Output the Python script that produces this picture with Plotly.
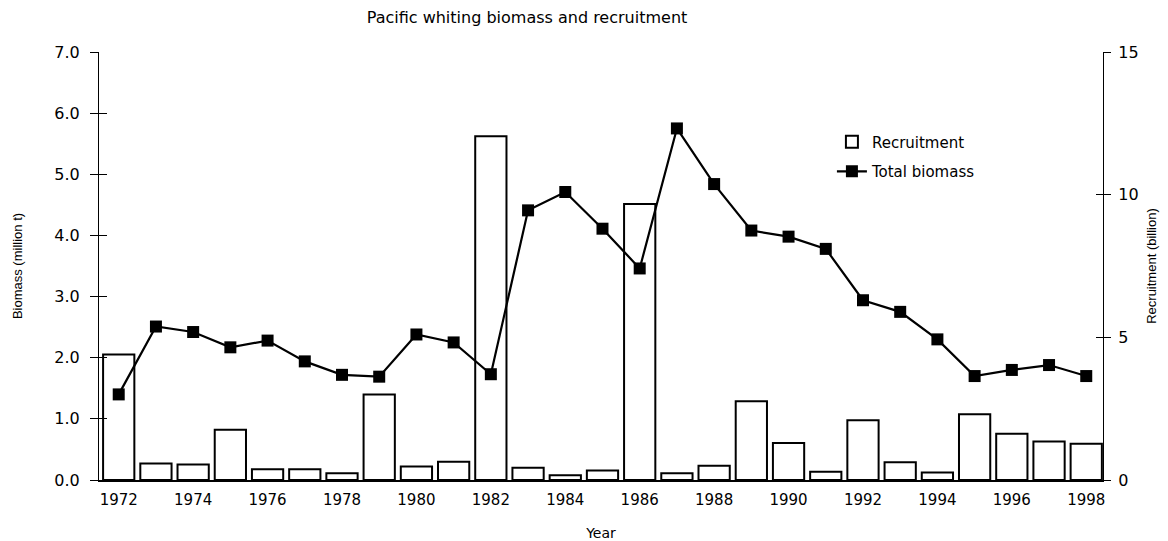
import plotly.graph_objects as go

years = list(range(1972, 1999))
recruitment_bn = [4.4, 0.58, 0.54, 1.76, 0.38, 0.38, 0.24, 3.0, 0.47, 0.64,
                  12.05, 0.43, 0.17, 0.33, 9.67, 0.24, 0.50, 2.76, 1.30, 0.29,
                  2.09, 0.62, 0.26, 2.30, 1.62, 1.35, 1.27]
biomass_mt = [1.40, 2.51, 2.42, 2.17, 2.28, 1.94, 1.72, 1.69, 2.38, 2.25,
              1.73, 4.41, 4.71, 4.11, 3.46, 5.75, 4.84, 4.08, 3.98, 3.78,
              2.94, 2.75, 2.30, 1.70, 1.80, 1.88, 1.70]
x_ticks = list(range(1972, 1999, 2))
left_ticks = [0, 1, 2, 3, 4, 5, 6, 7]
right_ticks = [0, 5, 10, 15]

TXT = "DejaVu Sans"
AX = "Liberation Sans"

# page body has an 8px margin, so the figure is sized to the visible area
W, H = 1160, 533

fig = go.Figure()
fig.add_trace(go.Bar(
    x=years, y=recruitment_bn, name="Recruitment", yaxis="y", legendgroup="r",
    width=0.84, marker=dict(color="white", line=dict(color="black", width=2)),
))
fig.add_trace(go.Scatter(
    x=years, y=biomass_mt, name="Total biomass", yaxis="y2", mode="lines+markers",
    legendgroup="b",
    line=dict(color="black", width=2.2),
    marker=dict(symbol="square", size=12, color="black"),
))

xr = [1971.47, 1998.45]
fig.update_layout(
    width=W, height=H,
    margin=dict(l=91, r=65, t=44, b=61),
    paper_bgcolor="white", plot_bgcolor="white",
    title=dict(text="Pacific whiting biomass and recruitment", x=519 / W, xanchor="center",
               y=1 - 9 / H, yanchor="middle", font=dict(family=TXT, size=16, color="black")),
    showlegend=True,
    legend=dict(x=0.730, y=0.828, xanchor="left", yanchor="top", bgcolor="rgba(0,0,0,0)",
                font=dict(family=TXT, size=15, color="black"), traceorder="grouped",
                tracegroupgap=7),
    xaxis=dict(range=xr, tickmode="array", tickvals=x_ticks, ticks="", automargin=False,
               ticklabelstandoff=5,
               showline=True, linecolor="black", linewidth=1.5, showgrid=False, zeroline=False,
               tickfont=dict(family=TXT, size=15, color="black"),
               title=dict(text="Year", font=dict(family=TXT, size=14, color="black"), standoff=22)),
    yaxis=dict(range=[0, 15], side="right", tickmode="array", tickvals=right_ticks, automargin=False,
               ticks="outside", ticklen=7, tickwidth=1.2, tickcolor="black", ticklabelstandoff=4,
               showline=True, linecolor="black", linewidth=1.2, showgrid=False, zeroline=False,
               tickfont=dict(family=TXT, size=16, color="black"),
               title=dict(text="Recruitment (billion)", font=dict(family=AX, size=13, color="black"), standoff=9)),
    yaxis2=dict(range=[0, 7], side="left", overlaying="y", tickmode="array", tickvals=left_ticks,
                automargin=False, tickformat=".1f", ticks="outside", ticklen=8, tickwidth=1.2,
                tickcolor="black", ticklabelstandoff=7,
                showline=True, linecolor="black", linewidth=1.2, showgrid=False, zeroline=False,
                tickfont=dict(family=TXT, size=16, color="black"),
                title=dict(text="Biomass (million t)", font=dict(family=AX, size=13, color="black"), standoff=28)),
    yaxis3=dict(range=[0, 7], side="left", overlaying="y", tickmode="array", tickvals=left_ticks,
                ticks="inside", ticklen=8, tickwidth=1.2, tickcolor="black", automargin=False,
                showticklabels=False, showline=False, showgrid=False, zeroline=False),
    yaxis4=dict(range=[0, 15], side="right", overlaying="y", tickmode="array", tickvals=right_ticks,
                ticks="inside", ticklen=7, tickwidth=1.2, tickcolor="black", automargin=False,
                showticklabels=False, showline=False, showgrid=False, zeroline=False),
    bargap=0.2,
)
# invisible helper traces so the overlay tick axes render
fig.add_trace(go.Scatter(x=[None], y=[None], yaxis="y3", showlegend=False, hoverinfo="skip"))
fig.add_trace(go.Scatter(x=[None], y=[None], yaxis="y4", showlegend=False, hoverinfo="skip"))

fig.write_html("out.html")
